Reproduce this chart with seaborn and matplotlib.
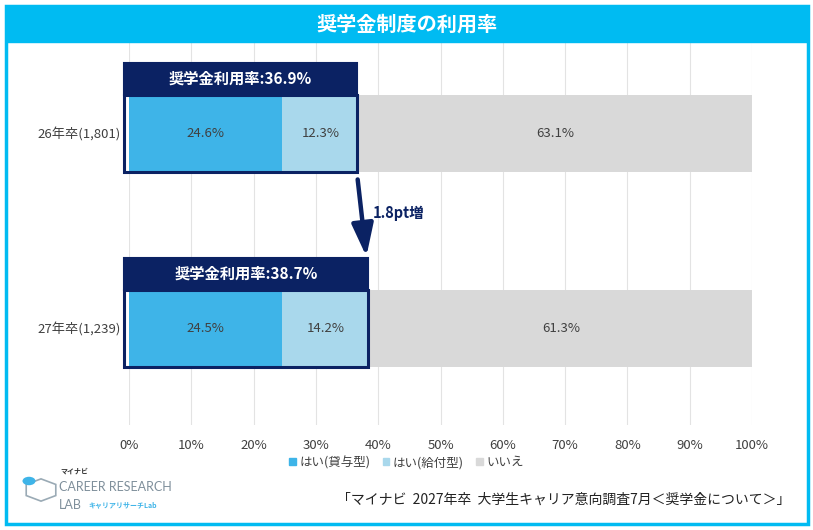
#!/usr/bin/env python3
"""
奨学金制度の利用率 - horizontal stacked bar chart
"""
import matplotlib.pyplot as plt
import matplotlib.patches as mpatches
import numpy as np
import pandas as pd
import seaborn as sns

# Data
categories = ['26年卒(1,801)', '27年卒(1,239)']
loan = [24.6, 24.5]        # はい(貸与型)
grant = [12.3, 14.2]       # はい(給付型)
no = [63.1, 61.3]          # いいえ
usage_rate = [36.9, 38.7]  # 奨学金利用率
series_names = ['はい(貸与型)', 'はい(給付型)', 'いいえ']
diff_label = '1.8pt増'

sns.set_style("white")
plt.rcParams['font.family'] = ['Noto Sans CJK JP', 'DejaVu Sans']

C_LOAN = '#3EB4E8'
C_GRANT = '#A9D8EC'
C_NO = '#D9D9D9'
NAVY = '#0B2263'
CYAN = '#00BBF2'
TXT = '#404040'

df = pd.DataFrame({'cat': categories, 'loan': loan, 'grant': grant, 'no': no})
df['cum_grant'] = df['loan'] + df['grant']
df['cum_no'] = df['cum_grant'] + df['no']

fig = plt.figure(figsize=(8.13, 5.30), dpi=100)
ax = fig.add_axes([0.1587, 0.198, 0.7663, 0.7226])

bar_h = 0.395
for col, colr in [('cum_no', C_NO), ('cum_grant', C_GRANT), ('loan', C_LOAN)]:
    sns.barplot(data=df, x=col, y='cat', color=colr, width=bar_h,
                orient='h', ax=ax, saturation=1, linewidth=0)

ax.set_xlim(0, 100)
ax.set_ylim(1.497, -0.467)
ax.set_xticks(np.arange(0, 101, 10))
ax.set_xticklabels([f'{v}%' for v in range(0, 101, 10)], fontsize=9.5, color=TXT)
ax.tick_params(axis='y', labelsize=9.5, labelcolor=TXT, length=0, pad=6)
ax.tick_params(axis='x', length=0, pad=10)
ax.set_xlabel('')
ax.set_ylabel('')
ax.grid(axis='x', color='#E3E3E3', linewidth=0.8)
ax.set_axisbelow(True)
for s in ax.spines.values():
    s.set_visible(False)

# segment labels
for i in range(len(categories)):
    starts = [0, loan[i], loan[i] + grant[i]]
    for st, w in zip(starts, [loan[i], grant[i], no[i]]):
        ax.text(st + w / 2, i, f'{w}%', ha='center', va='center',
                fontsize=9.5, color=TXT)

# navy highlight boxes with header
head_h = 0.16
for i in range(len(categories)):
    top = i - bar_h / 2
    x0 = -0.8
    w = usage_rate[i] - 0.3 - x0
    ax.add_patch(mpatches.Rectangle((x0, top), w, bar_h, fill=False,
                                    edgecolor=NAVY, linewidth=2.2, zorder=5,
                                    clip_on=False))
    ax.add_patch(mpatches.Rectangle((x0, top - head_h), w, head_h,
                                    facecolor=NAVY, edgecolor=NAVY,
                                    linewidth=1.5, zorder=5, clip_on=False))
    ax.text(x0 + w / 2, top - head_h / 2, f'奨学金利用率:{usage_rate[i]}%',
            ha='center', va='center', color='white', fontsize=11,
            fontweight='bold', zorder=6)

# arrow between the two rates
ax.annotate('', xy=(usage_rate[1] - 0.6, 1 - bar_h / 2 - head_h - 0.01),
            xytext=(usage_rate[0] - 0.2, bar_h / 2 + 0.04),
            arrowprops=dict(arrowstyle='-|>,head_length=0.9,head_width=0.3',
                            color=NAVY, lw=3.2, mutation_scale=22,
                            shrinkA=0, shrinkB=0))
ax.text(39.2, 0.41, diff_label, ha='left', va='center', color=NAVY,
        fontsize=10.5, fontweight='bold')

# legend
handles = [mpatches.Patch(color=c, label=n)
           for c, n in zip([C_LOAN, C_GRANT, C_NO], series_names)]
leg = fig.legend(handles=handles, loc='center', bbox_to_anchor=(0.5, 0.127),
                 ncol=3, frameon=False, fontsize=9, handlelength=0.5,
                 handleheight=0.5, handletextpad=0.3, columnspacing=1.0)
for t in leg.get_texts():
    t.set_color(TXT)

# title band and outer frame
fig.patches.append(mpatches.Rectangle((6 / 813, 1 - 42 / 530), 802 / 813, 36 / 530,
                                      transform=fig.transFigure, facecolor=CYAN,
                                      edgecolor=CYAN, zorder=0))
fig.patches.append(mpatches.Rectangle((6 / 813, 6 / 530), 802 / 813, 518 / 530,
                                      transform=fig.transFigure, fill=False,
                                      edgecolor=CYAN, linewidth=2.5, zorder=10))
fig.text(0.5, 1 - 24 / 530, '奨学金制度の利用率', ha='center', va='center',
         color='white', fontsize=14.5, fontweight='bold')

# logo (approximation)
fig.patches.append(mpatches.RegularPolygon((41 / 813, 1 - 490 / 530), 6,
                                           radius=0.021, transform=fig.transFigure,
                                           fill=False, edgecolor='#9AAAB5',
                                           linewidth=1.2))
fig.patches.append(mpatches.Circle((29 / 813, 1 - 481 / 530), 0.008,
                                   transform=fig.transFigure, facecolor='#3EB4E8',
                                   edgecolor='none'))
fig.text(60 / 813, 1 - 471 / 530, 'マイナビ', fontsize=5, color='#333333',
         fontweight='bold', va='center')
fig.text(59 / 813, 1 - 487 / 530, 'CAREER RESEARCH', fontsize=9,
         color='#7F8F9B', va='center', family=['Lato', 'DejaVu Sans'])
fig.text(59 / 813, 1 - 505 / 530, 'LAB', fontsize=9, color='#7F8F9B',
         va='center', family=['Lato', 'DejaVu Sans'])
fig.text(88 / 813, 1 - 505 / 530, 'キャリアリサーチLab', fontsize=5,
         color='#3EB4E8', va='center', fontweight='bold')

# source
fig.text(790 / 813, 1 - 500 / 530,
         '「マイナビ  2027年卒  大学生キャリア意向調査7月＜奨学金について＞」',
         ha='right', va='center', fontsize=10, color='#222222')

fig.savefig('out.png', dpi=100)
plt.close(fig)
